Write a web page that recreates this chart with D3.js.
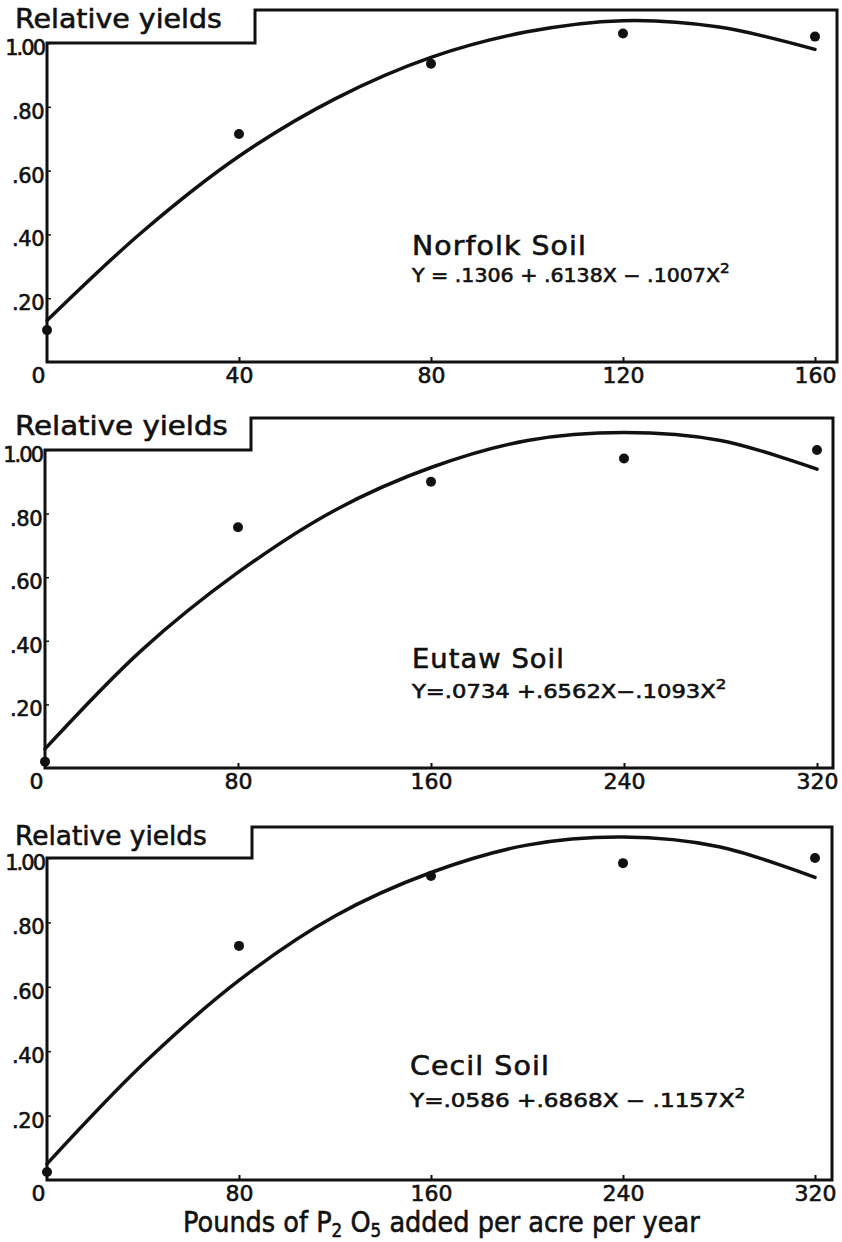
<!DOCTYPE html>
<html>
<head>
<meta charset="utf-8">
<script src="https://cdn.jsdelivr.net/npm/d3@7"></script>
<style>
body { margin: 0; background: #fff; }
svg text { font-family: "DejaVu Sans", sans-serif; fill: #111; stroke: #111; stroke-width: 0.6px; }
</style>
</head>
<body>
<script>
// ---- data ----
const soilNames = ["Norfolk Soil", "Eutaw Soil", "Cecil Soil"];
const soilEquations = ["Y = .1306 + .6138X − .1007X^2", "Y=.0734 +.6562X−.1093X^2", "Y=.0586 +.6868X − .1157X^2"];

const xTicksNorfolk = [0, 40, 80, 120, 160];
const xTicksOther = [0, 80, 160, 240, 320];
const yTicks = [0.2, 0.4, 0.6, 0.8, 1.0];
const yTickLabels = [".20", ".40", ".60", ".80", "1.00"];

// observed relative yields
const norfolkRate = [0, 40, 80, 120, 160];
const norfolkYield = [0.10, 0.715, 0.935, 1.03, 1.02];
const eutawRate = [0, 80, 160, 240, 320];
const eutawYield = [0.02, 0.757, 0.90, 0.973, 1.00];
const cecilRate = [0, 80, 160, 240, 320];
const cecilYield = [0.025, 0.727, 0.944, 0.984, 1.00];

// fitted curves
const norfolkFitRate = [0, 20, 40, 60, 80, 100, 120, 140, 160];
const norfolkFit = [0.13, 0.41, 0.645, 0.825, 0.955, 1.035, 1.07, 1.05, 0.98];
const eutawFitRate = [0, 40, 80, 120, 160, 200, 240, 280, 320];
const eutawFit = [0.06, 0.37, 0.615, 0.81, 0.945, 1.03, 1.055, 1.03, 0.94];
const cecilFitRate = [0, 40, 80, 120, 160, 200, 240, 280, 320];
const cecilFit = [0.05, 0.36, 0.62, 0.82, 0.955, 1.04, 1.065, 1.035, 0.94];

const xAxisTitle = ["Pounds of P", "2", " O", "5", " added per acre per year"];

// ---- layout (pixels) ----
const panels = [
    { name: soilNames[0], eq: soilEquations[0], ticks: xTicksNorfolk, xMax: 160,
      rate: norfolkRate, yld: norfolkYield, fitRate: norfolkFitRate, fit: norfolkFit,
      left: 47, xEnd: 815, right: 837, y0: 362, y1: 43, stepX: 255, stepTop: 10,
      relY: 28, relW: 207, labelX: 412, nameY: 255, nameW: 175, eqY: 282, eqW: 319 },
    { name: soilNames[1], eq: soilEquations[1], ticks: xTicksOther, xMax: 320,
      rate: eutawRate, yld: eutawYield, fitRate: eutawFitRate, fit: eutawFit,
      left: 45, xEnd: 817, right: 833, y0: 768, y1: 450, stepX: 251, stepTop: 418,
      relY: 435, relW: 213, labelX: 412, nameY: 668, nameW: 153, eqY: 698, eqW: 316 },
    { name: soilNames[2], eq: soilEquations[2], ticks: xTicksOther, xMax: 320,
      rate: cecilRate, yld: cecilYield, fitRate: cecilFitRate, fit: cecilFit,
      left: 47, xEnd: 815, right: 832, y0: 1180, y1: 858, stepX: 252, stepTop: 827,
      relY: 845, relW: 192, labelX: 410, nameY: 1075, nameW: 140, eqY: 1107, eqW: 337 }
];

const svg = d3.select("body").append("svg")
    .attr("width", 842)
    .attr("height", 1242);

// squeeze/stretch a text element to a given width starting at x0
function fitWidth(sel, x0, w) {
    const bw = sel.node().getBBox().width;
    sel.attr("transform", `translate(${x0},0) scale(${w / bw},1) translate(${-x0},0)`);
}

panels.forEach(p => {
    const x = d3.scaleLinear().domain([0, p.xMax]).range([p.left, p.xEnd]);
    const y = d3.scaleLinear().domain([0, 1]).range([p.y0, p.y1]);
    const g = svg.append("g");

    // frame with the step for the "Relative yields" label
    const frame = d3.path();
    frame.moveTo(p.left, p.y0);
    frame.lineTo(p.left, p.y1);
    frame.lineTo(p.stepX, p.y1);
    frame.lineTo(p.stepX, p.stepTop);
    frame.lineTo(p.right, p.stepTop);
    frame.lineTo(p.right, p.y0);
    frame.closePath();
    g.append("path")
        .attr("d", frame.toString())
        .attr("fill", "none")
        .attr("stroke", "#111")
        .attr("stroke-width", 3)
        .attr("stroke-linejoin", "miter");

    // x axis ticks + labels
    const xAxis = g.append("g")
        .attr("transform", `translate(0,${p.y0})`)
        .call(d3.axisBottom(x).tickValues(p.ticks).tickSize(-5).tickPadding(5).tickFormat(d3.format("d")));
    xAxis.select(".domain").remove();
    xAxis.selectAll(".tick line").attr("stroke", "#111").attr("stroke-width", 2)
        .attr("display", d => d === 0 ? "none" : null);
    xAxis.selectAll(".tick text")
        .attr("font-size", 22)
        .attr("font-family", "DejaVu Sans")
        .attr("x", d => d === 0 ? -9 : 0);

    // y axis ticks + labels
    const yAxis = g.append("g")
        .attr("transform", `translate(${p.left},0)`)
        .call(d3.axisLeft(y).tickValues(yTicks).tickSize(-4).tickPadding(3)
            .tickFormat((d, i) => yTickLabels[i]));
    yAxis.select(".domain").remove();
    yAxis.selectAll(".tick line").attr("stroke", "#111").attr("stroke-width", 1.5);
    yAxis.selectAll(".tick text")
        .attr("font-size", 21)
        .attr("font-family", "DejaVu Sans")
        .attr("dy", "0.55em")
        .attr("letter-spacing", d => d === 1 ? -2 : -0.5);

    // "Relative yields"
    const rel = g.append("text")
        .attr("x", 15)
        .attr("y", p.relY)
        .attr("font-size", 27)
        .text("Relative yields");
    fitWidth(rel, 15, p.relW);

    // fitted curve
    const line = d3.line()
        .x((d, i) => x(p.fitRate[i]))
        .y(d => y(d))
        .curve(d3.curveCatmullRom);
    g.append("path")
        .attr("d", line(p.fit))
        .attr("fill", "none")
        .attr("stroke", "#111")
        .attr("stroke-width", 3.5)
        .attr("stroke-linecap", "round");

    // observed points
    g.selectAll(".pt")
        .data(p.yld)
        .enter().append("circle")
        .attr("class", "pt")
        .attr("cx", (d, i) => x(p.rate[i]))
        .attr("cy", d => y(d))
        .attr("r", 5)
        .attr("fill", "#111");

    // soil name and equation
    const nm = g.append("text")
        .attr("x", p.labelX)
        .attr("y", p.nameY)
        .attr("font-size", 26)
        .attr("letter-spacing", 1)
        .text(p.name);
    fitWidth(nm, p.labelX, p.nameW);

    const parts = p.eq.split("^");
    const eq = g.append("text")
        .attr("x", p.labelX)
        .attr("y", p.eqY)
        .attr("font-size", 19);
    eq.append("tspan").text(parts[0]);
    eq.append("tspan")
        .attr("dy", -9)
        .attr("font-size", 14)
        .text(parts[1]);
    fitWidth(eq, p.labelX, p.eqW);
});

// x axis title under the bottom panel
const title = svg.append("text")
    .attr("x", 183)
    .attr("y", 1232)
    .attr("font-size", 29);
xAxisTitle.forEach((t, i) => {
    const ts = title.append("tspan").text(t);
    if (i % 2 === 1) ts.attr("font-size", 19).attr("dy", 5);
    else if (i > 0) ts.attr("dy", -5);
});
fitWidth(title, 183, 517);
</script>
</body>
</html>
